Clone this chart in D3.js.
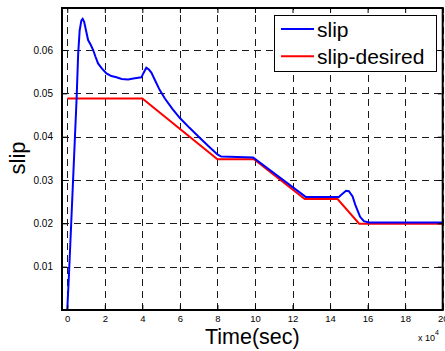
<!DOCTYPE html>
<html>
<head>
<meta charset="utf-8">
<script src="https://cdn.jsdelivr.net/npm/d3@7"></script>
<style>
  html, body { margin: 0; padding: 0; background: #fff; }
  svg { display: block; }
  text { font-family: "Liberation Sans", Arial, sans-serif; fill: #000; }
</style>
</head>
<body>
<svg id="chart" width="445" height="351"></svg>
<script>
// ---- data (time in units of 1e4 sec) ----
const slipTime = [0, 0.1, 0.2, 0.3, 0.4, 0.5, 0.58, 0.66, 0.75, 0.82, 0.9, 1.0, 1.11, 1.25, 1.38, 1.5, 1.64, 1.85, 2.09, 2.35, 2.62, 2.9, 3.24, 3.6, 3.95, 4.05, 4.21, 4.35, 4.48, 4.7, 4.92, 5.2, 5.6, 6.0, 6.5, 7.0, 7.5, 8.0, 8.2, 9.9, 12.7, 14.47, 14.6, 14.85, 15.0, 15.2, 15.35, 15.6, 15.8, 16.06, 20];
const slipValues = [0.0, 0.009, 0.019, 0.029, 0.039, 0.049, 0.059, 0.0645, 0.0668, 0.0672, 0.0665, 0.0645, 0.0623, 0.0612, 0.0600, 0.0585, 0.0569, 0.0557, 0.0546, 0.0540, 0.0537, 0.0533, 0.0532, 0.0535, 0.0537, 0.0546, 0.0559, 0.0555, 0.0548, 0.0528, 0.0508, 0.0488, 0.0464, 0.0443, 0.0421, 0.0400, 0.0379, 0.0359, 0.0354, 0.0352, 0.0261, 0.0261, 0.0266, 0.0275, 0.0274, 0.0262, 0.0242, 0.0215, 0.0205, 0.0202, 0.0202];
const desiredTime = [0, 4, 8, 9.95, 12.65, 14.4, 15.55, 20];
const desiredValues = [0.0488, 0.0488, 0.0348, 0.0348, 0.0256, 0.0256, 0.0199, 0.0199];
const xTicks = [0, 2, 4, 6, 8, 10, 12, 14, 16, 18, 20];
const yTicks = [0.01, 0.02, 0.03, 0.04, 0.05, 0.06];
const seriesNames = ["slip", "slip-desired"];
const seriesColors = ["#0000ff", "#ff0000"];

// ---- layout ----
const L = 62, R = 442.7, T = 8, B = 310;
const svg = d3.select("#chart");
svg.append("rect").attr("width", 445).attr("height", 351).attr("fill", "#fff");

const x = d3.scaleLinear().domain([-0.28, 20]).range([L, R]);
const y = d3.scaleLinear().domain([0, 0.0697]).range([B, T]);

svg.append("clipPath").attr("id", "clip")
  .append("rect").attr("x", L).attr("y", T).attr("width", R - L).attr("height", B - T);

// grid
const grid = svg.append("g").attr("stroke", "#1a1a1a").attr("stroke-width", 1)
  .attr("stroke-dasharray", "7,5").attr("fill", "none");
xTicks.forEach(t => {
  grid.append("line").attr("x1", Math.round(x(t)) + 0.5).attr("x2", Math.round(x(t)) + 0.5)
    .attr("y1", B).attr("y2", T);
});
yTicks.forEach(v => {
  grid.append("line").attr("y1", Math.round(y(v)) + 0.5).attr("y2", Math.round(y(v)) + 0.5)
    .attr("x1", L).attr("x2", R);
});

// series
const line = d3.line().x(d => x(d[0])).y(d => y(d[1]));
const plot = svg.append("g").attr("clip-path", "url(#clip)");
plot.append("path").datum(desiredTime.map((t, i) => [t, desiredValues[i]]))
  .attr("d", line).attr("fill", "none").attr("stroke", seriesColors[1]).attr("stroke-width", 2);
plot.append("path").datum(slipTime.map((t, i) => [t, slipValues[i]]))
  .attr("d", line).attr("fill", "none").attr("stroke", seriesColors[0]).attr("stroke-width", 2);

// axes (inner ticks on all sides)
const tickLen = 5;
const axB = d3.axisBottom(x).tickValues(xTicks).tickSize(-tickLen).tickPadding(5).tickFormat(d3.format("d"));
const axT = d3.axisTop(x).tickValues(xTicks).tickSize(-tickLen).tickFormat("");
const axLft = d3.axisLeft(y).tickValues(yTicks).tickSize(-tickLen).tickPadding(9).tickFormat(d3.format(".2f"));
const axRgt = d3.axisRight(y).tickValues(yTicks).tickSize(-tickLen).tickFormat("");

function styleAxis(g) {
  g.select(".domain").remove();
  g.selectAll(".tick line").attr("stroke", "#000").attr("stroke-width", 1);
  g.selectAll(".tick text").attr("font-size", 9.5).attr("font-family", "'Liberation Sans', Arial, sans-serif").attr("fill", "#222");
}
svg.append("g").attr("transform", `translate(0,${B})`).call(axB).call(styleAxis);
svg.append("g").attr("transform", `translate(0,${T})`).call(axT).call(styleAxis);
svg.append("g").attr("transform", `translate(${L},0)`).call(axLft).call(styleAxis).selectAll(".tick text").attr("font-size", 10);
svg.append("g").attr("transform", `translate(${R},0)`).call(axRgt).call(styleAxis);

// box
svg.append("rect").attr("x", L).attr("y", T).attr("width", R - L).attr("height", B - T)
  .attr("fill", "none").attr("stroke", "#000").attr("stroke-width", 2);

// labels
svg.append("text").attr("x", (L + R) / 2).attr("y", 344).attr("text-anchor", "middle")
  .attr("font-size", 21.5).text("Time(sec)");
svg.append("text").attr("transform", "translate(25,158) rotate(-90)").attr("text-anchor", "middle")
  .attr("font-size", 22).text("slip");
const sci = svg.append("text").attr("x", 418).attr("y", 341).attr("font-size", 9);
sci.append("tspan").text("x 10");
sci.append("tspan").attr("dy", -6).attr("font-size", 7).text("4");

// legend
const lg = svg.append("g");
lg.append("rect").attr("x", 274.5).attr("y", 15.5).attr("width", 162).attr("height", 56)
  .attr("fill", "#fff").attr("stroke", "#000").attr("stroke-width", 1);
seriesNames.forEach((name, i) => {
  const yy = 29 + i * 27.3;
  lg.append("line").attr("x1", 281).attr("x2", 314).attr("y1", yy).attr("y2", yy)
    .attr("stroke", seriesColors[i]).attr("stroke-width", 2);
  lg.append("text").attr("x", 317).attr("y", yy + 7.5).attr("font-size", 21).text(name);
});
</script>
</body>
</html>
